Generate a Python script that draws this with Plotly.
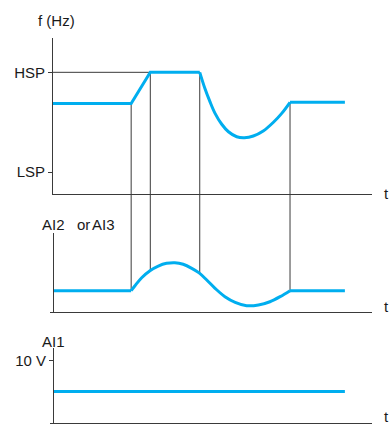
import plotly.graph_objects as go
import numpy as np

# ---------------- data ----------------
# top panel: output frequency f (arbitrary units, HSP / LSP levels)
HSP = 78
LSP = 14
t_f = [0, 24.5, 30.5, 46, 47.6, 49.2, 50.8, 52.9, 55.0, 57.6, 60.0, 62.8, 65.9, 69.1, 71.7, 74.3, 91.5]
f_vals = [58, 58, 78, 78, 67.8, 59.2, 51.7, 44.7, 39.9, 36.7, 36.1, 37.2, 40.4, 46.0, 51.7, 58.8, 58.8]

# middle panel: AI2 or AI3 signal
t_ai23 = [0, 24.5, 25.7, 27.8, 30.4, 33.0, 35.6, 38.2, 40.8, 43.5, 45.8, 48.2, 50.8,
          53.9, 57.1, 60.7, 64.4, 68.0, 71.2, 74.3, 91.5]
v_ai23 = [27, 27, 33.3, 43.4, 52.3, 58.2, 61.6, 62.4, 60.4, 55.3, 49.5, 40.5, 30.0,
          19.4, 12.3, 8.0, 8.9, 13.0, 19.4, 27, 27]

# bottom panel: AI1 (volts)
t_ai1 = [0, 91.5]
v_ai1 = [5, 5]

# event times (vertical marker lines)
events_t = [24.5, 30.5, 46, 74.3]

# tick labels
top_tickvals = [LSP, HSP]
top_ticktext = ["LSP", "HSP"]
bot_tickvals = [10]
bot_ticktext = ["10 V"]

# ---------------- style ----------------
W, H = 389, 425
BLUE = "#00AEEF"
AX = "#3a3a3a"
TXT = "#1a1a1a"
FONT = "Liberation Sans, Arial, sans-serif"
FS = 15

def px_x(p):
    return p / W

def px_y(p):
    return 1 - p / H

top_dom = [px_y(194), px_y(38)]
mid_dom = [px_y(312), px_y(233)]
bot_dom = [px_y(422.7), px_y(348)]
x_dom = [px_x(53), px_x(372)]
x_dom_ext = [px_x(50), px_x(372)]
ext = 3 / ((372 - 53) / 100.0)

fig = go.Figure()
thick = dict(color=BLUE, width=3)
spl = dict(color=BLUE, width=3, shape="spline", smoothing=1)

# top
fig.add_trace(go.Scatter(x=t_f[:4], y=f_vals[:4], mode="lines", line=thick, xaxis="x", yaxis="y"))
fig.add_trace(go.Scatter(x=t_f[3:16], y=f_vals[3:16], mode="lines", line=spl, xaxis="x", yaxis="y"))
fig.add_trace(go.Scatter(x=t_f[15:], y=f_vals[15:], mode="lines", line=thick, xaxis="x", yaxis="y"))
# middle
fig.add_trace(go.Scatter(x=t_ai23[:2], y=v_ai23[:2], mode="lines", line=thick, xaxis="x2", yaxis="y2"))
fig.add_trace(go.Scatter(x=t_ai23[1:20], y=v_ai23[1:20], mode="lines", line=spl, xaxis="x2", yaxis="y2"))
fig.add_trace(go.Scatter(x=t_ai23[19:], y=v_ai23[19:], mode="lines", line=thick, xaxis="x2", yaxis="y2"))
# bottom
fig.add_trace(go.Scatter(x=t_ai1, y=v_ai1, mode="lines", line=thick, xaxis="x3", yaxis="y3"))

shapes = []
thin = dict(color=AX, width=1)
# HSP reference line
shapes.append(dict(type="line", xref="x", yref="y", x0=0, x1=events_t[2], y0=HSP, y1=HSP,
                   line=thin, layer="below"))
for t in events_t:
    ftop = float(np.interp(t, t_f, f_vals))
    vmid = float(np.interp(t, t_ai23, v_ai23))
    shapes.append(dict(type="line", xref="x", yref="y", x0=t, x1=t, y0=ftop, y1=0,
                       line=thin, layer="below"))
    shapes.append(dict(type="line", xref="x", yref="paper", x0=t, x1=t,
                       y0=mid_dom[1], y1=top_dom[0], line=thin, layer="below"))
    shapes.append(dict(type="line", xref="x2", yref="y2", x0=t, x1=t, y0=100, y1=vmid,
                       line=thin, layer="below"))

font = dict(family=FONT, size=FS, color=TXT)

def ann(text, x, y, xanchor="left"):
    return dict(text=text, x=px_x(x), y=px_y(y), xref="paper", yref="paper",
                xanchor=xanchor, yanchor="middle", showarrow=False, font=font)

annotations = [
    ann("f (Hz)", 56.7, 20, "center"),
    ann("t", 386, 193, "center"),
    ann("t", 386, 306.7, "center"),
    ann("t", 386, 416.5, "center"),
    ann("AI2", 40, 224.7),
    ann("or", 74.5, 224.7),
    ann("AI3", 90, 224.7),
    ann("AI1", 40, 341),
]

common_x = dict(showline=True, linecolor=AX, linewidth=1, showgrid=False, zeroline=False,
                showticklabels=False, ticks="")
common_y = dict(showline=True, linecolor=AX, linewidth=1, showgrid=False, zeroline=False,
                tickfont=font, tickcolor=AX, ticklen=4, tickwidth=1)

fig.update_layout(
    width=W, height=H, autosize=False,
    margin=dict(l=0, r=0, t=0, b=0),
    paper_bgcolor="white", plot_bgcolor="white",
    showlegend=False,
    font=font,
    xaxis=dict(domain=x_dom, range=[0, 100], anchor="y", **common_x),
    yaxis=dict(domain=top_dom, range=[0, 100], anchor="x", tickvals=top_tickvals,
               ticktext=top_ticktext, ticks="outside", **common_y),
    xaxis2=dict(domain=x_dom_ext, range=[-ext, 100], anchor="y2", **common_x),
    yaxis2=dict(domain=mid_dom, range=[0, 100], anchor="free", position=x_dom[0],
                showticklabels=False, ticks="", **common_y),
    xaxis3=dict(domain=x_dom_ext, range=[-ext, 100], anchor="y3", **common_x),
    yaxis3=dict(domain=bot_dom, range=[0, 12], anchor="free", position=x_dom[0],
                tickvals=bot_tickvals, ticktext=bot_ticktext, ticks="outside", **common_y),
    shapes=shapes,
    annotations=annotations,
)

fig.write_html("out.html", config={"displayModeBar": False},
               post_script="document.body.style.margin='0';document.body.style.overflow='hidden';")
